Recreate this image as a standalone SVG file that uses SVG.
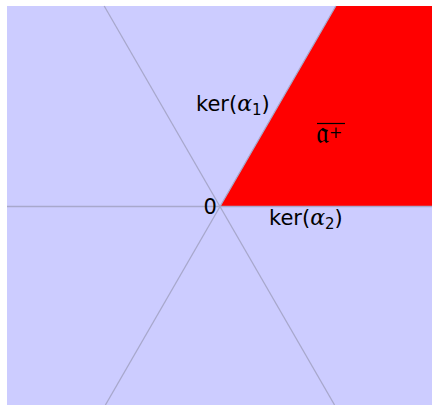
<svg xmlns="http://www.w3.org/2000/svg" width="432" height="405" viewBox="0 0 432 405">
<style>
.ln{stroke:#a8a8cc;stroke-width:1.3;fill:none}
.t{font-family:"DejaVu Sans","Liberation Sans",sans-serif;font-size:21px;fill:#000}
.m{font-family:"DejaVu Serif","Liberation Serif",serif;font-style:italic;font-size:22px}
.s{font-size:15px}
</style>
<rect x="0" y="0" width="432" height="405" fill="#ffffff"/>
<rect x="7" y="6" width="425" height="399" fill="#ccccff"/>
<polygon points="220,206.5 335.8,6 432,6 432,206.5" fill="#ff0000"/>
<g id="lines">
<line class="ln" x1="7" y1="206.5" x2="432" y2="206.5"/>
<line class="ln" x1="104.2" y1="6" x2="334.6" y2="405"/>
<line class="ln" x1="335.8" y1="6" x2="105.4" y2="405"/>
</g>
<g id="labels">
<text class="t" x="196" y="111">ker(<tspan class="m">α</tspan><tspan class="s" dy="4">1</tspan><tspan dy="-4">)</tspan></text>
<text class="t" x="203.5" y="214">0</text>
<text class="t" x="269" y="225">ker(<tspan class="m">α</tspan><tspan class="s" dy="4">2</tspan><tspan dy="-4">)</tspan></text>
<line x1="317" y1="123.5" x2="345" y2="123.5" stroke="#000" stroke-width="1.2"/>
<text x="316" y="143" style="font-family:'DejaVu Serif','Liberation Serif',serif;font-size:30px">𝔞<tspan font-size="16" dy="-5">+</tspan></text>
</g>
</svg>
